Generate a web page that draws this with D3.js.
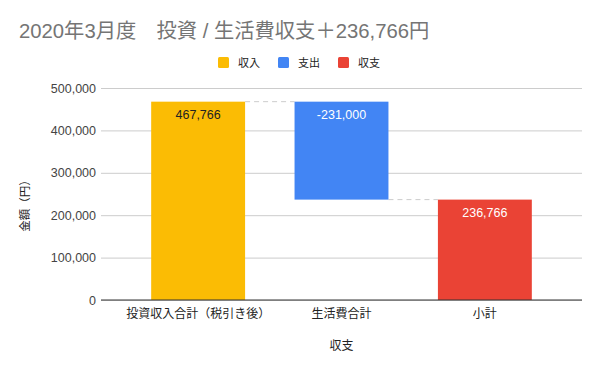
<!DOCTYPE html>
<html>
<head>
<meta charset="utf-8">
<script src="https://cdn.jsdelivr.net/npm/d3@7"></script>
<style>
  body { margin: 0; background: #fff; }
  text { font-family: "Liberation Sans", Arial, "Noto Sans CJK JP", sans-serif; }
</style>
</head>
<body>
<script>
const w = 600;
const h = 371;
const plot = { top: 88, right: 582, bottom: 300, left: 101 };

const categories = ["投資収入合計（税引き後）", "生活費合計", "小計"];
const values = [467766, -231000, 236766];
const kinds = ["収入", "支出", "収支"];
const legendLabels = ["収入", "支出", "収支"];
const colors = ["#fbbc04", "#4285f4", "#ea4335"];
const yTicks = [0, 100000, 200000, 300000, 400000, 500000];

// hyphen minus like the sheet export
const fmt = d3.formatLocale({ decimal: ".", thousands: ",", grouping: [3], currency: ["", ""], minus: "-" }).format(",");

// waterfall start/end for each step
let running = 0;
const steps = values.map((v, i) => {
	let start, end;
	if (kinds[i] === "収支") {
		start = 0;
		end = v;
		running = v;
	} else {
		start = running;
		end = running + v;
		running = end;
	}
	return { cat: categories[i], value: v, kind: kinds[i], start, end };
});

const color = d3.scaleOrdinal().domain(legendLabels).range(colors);

const x = d3
	.scaleBand()
	.domain(categories)
	.range([plot.left, plot.right])
	.paddingInner(0.345)
	.paddingOuter(0.35);

const y = d3.scaleLinear().domain([0, 500000]).range([plot.bottom, plot.top]);

const svg = d3.select("body").append("svg").attr("width", w).attr("height", h);

// title
svg
	.append("text")
	.attr("x", 19)
	.attr("y", 38)
	.attr("font-size", 20.3)
	.attr("fill", "#757575")
	.text("2020年3月度　投資 / 生活費収支＋236,766円");

// legend
const legend = svg
	.append("g")
	.selectAll("g")
	.data(legendLabels)
	.enter()
	.append("g")
	.attr("transform", (_, i) => `translate(${218 + i * 60}, 57)`);
legend
	.append("rect")
	.attr("width", 11)
	.attr("height", 11)
	.attr("rx", 1.5)
	.attr("fill", (d) => color(d));
legend
	.append("text")
	.attr("x", 20)
	.attr("y", 10)
	.attr("font-size", 11)
	.attr("fill", "#222")
	.text((d) => d);

// gridlines + y axis labels
const yAxis = d3
	.axisLeft(y)
	.tickValues(yTicks)
	.tickFormat(fmt)
	.tickSize(-(plot.right - plot.left))
	.tickPadding(5);
const gy = svg
	.append("g")
	.attr("transform", `translate(${plot.left}, 0)`)
	.call(yAxis);
gy.select(".domain").remove();
gy.selectAll(".tick line").attr("stroke", "#cccccc");
gy.selectAll(".tick text")
	.attr("font-size", 12.5)
	.attr("fill", "#444")
	.attr("font-family", "'Liberation Sans', Arial, sans-serif");

// connectors
svg
	.append("g")
	.selectAll("line")
	.data(steps.slice(0, -1))
	.enter()
	.append("line")
	.attr("x1", (d) => x(d.cat) + x.bandwidth())
	.attr("x2", (_, i) => x(categories[i + 1]))
	.attr("y1", (d) => y(d.end))
	.attr("y2", (d) => y(d.end))
	.attr("stroke", "#cccccc")
	.attr("stroke-dasharray", "5,4");

// bars
svg
	.append("g")
	.selectAll("rect")
	.data(steps)
	.enter()
	.append("rect")
	.attr("x", (d) => x(d.cat))
	.attr("y", (d) => y(Math.max(d.start, d.end)))
	.attr("width", x.bandwidth())
	.attr("height", (d) => Math.abs(y(d.start) - y(d.end)))
	.attr("fill", (d) => color(d.kind));

// data labels
svg
	.append("g")
	.selectAll("text")
	.data(steps)
	.enter()
	.append("text")
	.attr("x", (d) => x(d.cat) + x.bandwidth() / 2)
	.attr("y", (d) => y(Math.max(d.start, d.end)) + 17)
	.attr("text-anchor", "middle")
	.attr("font-size", 12.5)
	.attr("fill", (d) => (d.kind === "収入" ? "#222" : "#fff"))
	.text((d) => fmt(d.value));

// baseline
svg
	.append("line")
	.attr("x1", plot.left)
	.attr("x2", plot.right)
	.attr("y1", y(0))
	.attr("y2", y(0))
	.attr("stroke", "#333");

// x axis labels
const xAxis = d3.axisBottom(x).tickSize(0).tickPadding(9);
const gx = svg
	.append("g")
	.attr("transform", `translate(0, ${plot.bottom})`)
	.call(xAxis);
gx.select(".domain").remove();
gx.selectAll(".tick text").attr("font-size", 12).attr("fill", "#222");

// axis titles
svg
	.append("text")
	.attr("x", (plot.left + plot.right) / 2)
	.attr("y", 350)
	.attr("text-anchor", "middle")
	.attr("font-size", 12)
	.attr("fill", "#222")
	.text("収支");

svg
	.append("text")
	.attr("transform", "rotate(-90)")
	.attr("x", -203)
	.attr("y", 29)
	.attr("text-anchor", "middle")
	.attr("font-size", 11.5)
	.attr("fill", "#222")
	.text("金額（円）");
</script>
</body>
</html>
